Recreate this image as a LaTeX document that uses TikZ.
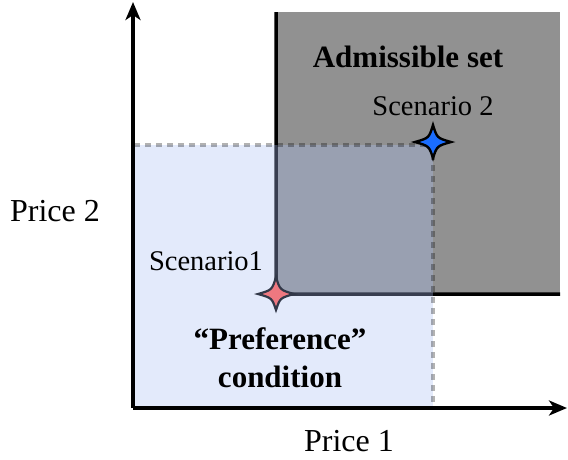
\documentclass[tikz,border=0pt]{standalone}
\usepackage{fontspec}
\setmainfont{Liberation Serif}
\usetikzlibrary{arrows.meta}
\definecolor{admgray}{RGB}{145,145,145}
\definecolor{prefblue}{RGB}{170,191,243}
\definecolor{starpink}{RGB}{238,120,128}
\definecolor{starblue}{RGB}{26,109,255}
\definecolor{starrim}{RGB}{50,56,72}
\tikzset{
  axisline/.style={line width=3.5pt,-{Stealth[length=18pt,width=15pt,inset=5pt]}},
  edgeline/.style={line width=3.5pt,rounded corners=5pt},
  prefborder/.style={draw=black,draw opacity=0.3,line width=3.5pt,dash pattern=on 6pt off 5pt},
  lbl/.style={font=\fontsize{32}{36}\selectfont,inner sep=0pt},
  scen/.style={font=\fontsize{28.5}{32}\selectfont,inner sep=0pt},
  boldlbl/.style={font=\fontsize{31}{35}\selectfont\bfseries,inner sep=0pt},
  fourstar/.pic={\path[pic actions] (0,-17) .. controls (4,-4) .. (18,0) .. controls (4,4) .. (0,16) .. controls (-4,4) .. (-18,0) .. controls (-4,-4) .. cycle;}
}
\begin{document}
\begin{tikzpicture}[x=1pt,y=-1pt]
\useasboundingbox (0,0) rectangle (568,459);
% coordinates
\coordinate (o) at (133,408);
\coordinate (ytop) at (133,2);
\coordinate (xend) at (567,408);
\coordinate (c1) at (276,294);
\coordinate (atop) at (276,12);
\coordinate (aright) at (560,294);
\coordinate (ptop) at (133,145);
\coordinate (s2) at (433,145);
\coordinate (pbr) at (433,408);
% admissible set
\fill[admgray] (atop) rectangle (aright);
\draw[edgeline] (atop) -- (c1) -- (aright);
% preference region
\fill[prefblue,fill opacity=0.33] (ptop) rectangle (pbr);
% axes
\draw[axisline] (o) -- (ytop);
\draw[axisline] (o) -- (xend);
\draw[prefborder] (o) -- (ptop) -- (s2) -- (pbr);
% stars
\pic[fill=starpink,draw=starrim,line width=2.2pt] at (c1) {fourstar};
\pic[fill=starblue,draw=black,line width=2.4pt] at (433,142) {fourstar};
% labels
\node[boldlbl] (adm) at (408,57) {Admissible set};
\node[scen] (sc2) at (433,106) {Scenario 2};
\node[scen] (sc1) at (206,261) {Scenario1};
\node[boldlbl] (pref) at (280,339) {“Preference”};
\node[boldlbl] (cond) at (280,377) {condition};
\node[lbl] (p2) at (55,211) {Price 2};
\node[lbl] (p1) at (349,441) {Price 1};
\end{tikzpicture}
\end{document}
